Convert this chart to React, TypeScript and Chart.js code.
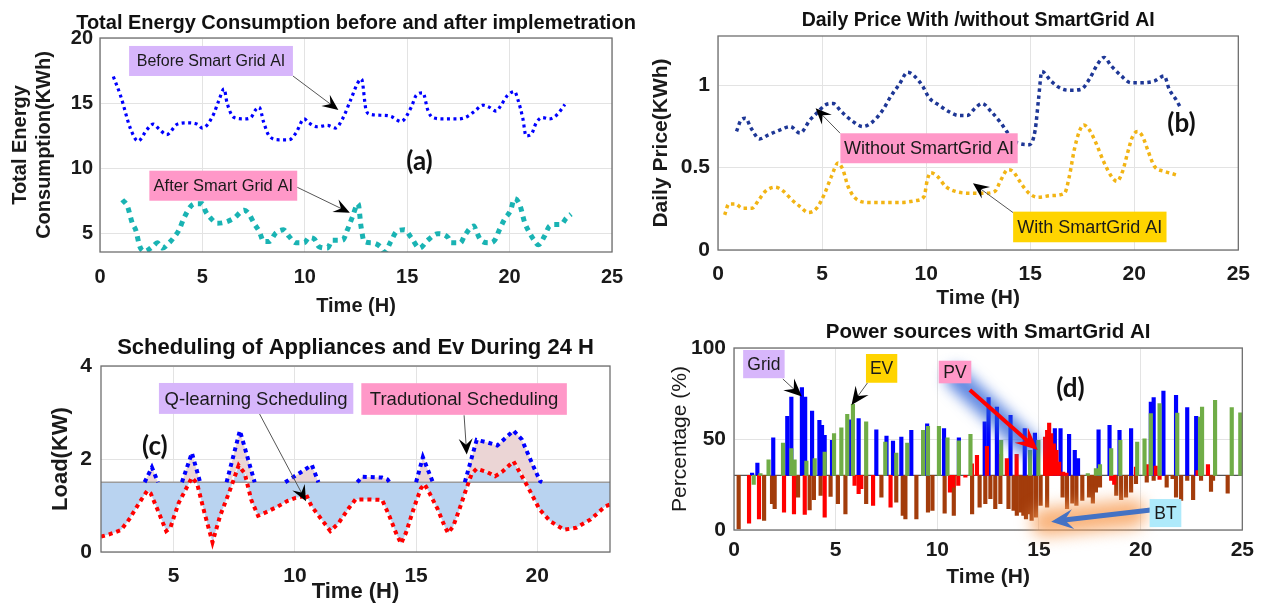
import React, { useEffect, useRef } from "react";
import { Chart, registerables } from "chart.js";

Chart.register(...registerables);

const FONT = "'Liberation Sans', Arial, Helvetica, sans-serif";
const TAG_FONT = "Lato, 'Open Sans', sans-serif";
const GRID = "#e3e3e3";
const FRAME = "#6f6f6f";
const LAVENDER = "#d7b6fb";
const PINK = "#ff98c8";
const GOLD = "#ffd400";
const CYAN = "#aeeafb";
const FILL_BLUE = "#b9d3f0";
const FILL_PINK = "#ebd5d5";

// ---------------- Panel (a) ----------------
const tickA_X = [0, 5, 10, 15, 20, 25];
const tickA_Y = [5, 10, 15, 20];
const beforeT = [0.65, 1.0, 1.5, 1.86, 2.3, 2.6, 2.9, 3.26, 3.78, 4.27, 4.75, 5.0, 5.5, 5.8, 6.06, 6.2, 6.55, 7.04, 7.36, 7.6, 7.77, 8.0, 8.26, 8.75, 9.23, 9.56, 9.97, 10.2, 10.6, 11.1, 11.5, 11.84, 12.25, 12.6, 12.77, 12.99, 13.2, 13.7, 14.2, 14.7, 15.2, 15.44, 15.77, 16.0, 16.25, 16.8, 17.5, 17.96, 18.3, 18.7, 19.0, 19.35, 19.6, 19.9, 20.24, 20.4, 20.65, 20.8, 21.05, 21.3, 21.6, 21.95, 22.3, 22.7];
const beforeV = [17.05, 15.6, 13.0, 12.1, 13.0, 13.4, 13.0, 12.6, 13.4, 13.5, 13.4, 13.1, 14.0, 15.2, 16.1, 15.05, 13.9, 13.8, 13.9, 14.5, 14.7, 13.5, 12.5, 12.2, 12.2, 12.7, 13.8, 13.5, 13.2, 13.3, 13.1, 13.8, 15.3, 16.6, 16.85, 14.5, 14.15, 14.08, 14.0, 13.6, 14.7, 15.6, 15.8, 14.5, 13.9, 13.8, 13.8, 14.0, 14.4, 14.85, 14.7, 14.4, 14.9, 15.6, 15.9, 15.3, 13.8, 12.5, 12.6, 13.5, 13.9, 13.8, 14.1, 14.9];
const afterT = [1.09, 1.34, 1.58, 1.74, 1.95, 2.18, 2.56, 2.8, 3.05, 3.37, 3.6, 3.86, 4.1, 4.43, 4.67, 5.0, 5.16, 5.4, 5.73, 6.14, 6.55, 7.04, 7.28, 7.52, 7.77, 8.0, 8.26, 8.58, 8.96, 9.23, 9.56, 9.97, 10.2, 10.46, 10.7, 11.1, 11.35, 11.84, 12.08, 12.33, 12.6, 12.75, 12.9, 13.3, 13.7, 13.9, 14.2, 14.5, 14.87, 15.2, 15.6, 16.0, 16.5, 17.0, 17.15, 17.6, 17.8, 18.26, 18.37, 18.6, 19.0, 19.27, 19.5, 19.75, 20.05, 20.24, 20.5, 20.73, 20.98, 21.2, 21.4, 21.7, 21.95, 22.2, 22.5, 22.77, 23.0];
const afterV = [7.6, 7.1, 5.8, 5.3, 4.0, 3.65, 4.0, 4.3, 3.9, 4.3, 4.7, 5.3, 6.2, 7.1, 7.3, 7.3, 6.7, 6.2, 5.8, 5.9, 6.2, 6.8, 6.5, 5.8, 5.2, 4.4, 4.4, 5.05, 5.3, 4.8, 4.3, 4.3, 4.7, 4.6, 4.0, 3.9, 4.5, 4.5, 5.3, 6.3, 7.3, 5.5, 4.4, 4.3, 4.0, 3.6, 4.4, 5.2, 5.3, 4.7, 3.9, 4.5, 5.0, 4.7, 4.3, 4.3, 4.85, 5.6, 5.2, 4.5, 4.3, 4.5, 5.3, 6.1, 6.8, 7.7, 7.2, 5.9, 5.05, 4.5, 4.15, 4.8, 5.6, 5.7, 5.7, 6.2, 6.5];

// ---------------- Panel (b) ----------------
const tickB_X = [0, 5, 10, 15, 20, 25];
const tickB_Y = [0, 0.5, 1];
const withoutT = [0.89, 1.11, 1.32, 1.59, 2.0, 2.43, 2.99, 3.47, 3.94, 4.42, 4.82, 5.13, 5.53, 5.93, 6.49, 6.96, 7.44, 7.92, 8.31, 8.71, 9.11, 9.43, 9.83, 10.14, 10.62, 11.1, 11.57, 11.97, 12.37, 12.69, 13.13, 13.6, 13.93, 14.4, 14.97, 15.24, 15.4, 15.56, 16.0, 16.49, 16.96, 17.44, 17.84, 18.24, 18.56, 18.88, 19.36, 19.84, 20.32, 20.96, 21.44, 21.68, 22.0, 22.2];
const withoutV = [0.72, 0.79, 0.8, 0.74, 0.675, 0.7, 0.73, 0.75, 0.71, 0.79, 0.84, 0.88, 0.89, 0.84, 0.78, 0.75, 0.78, 0.85, 0.935, 1.006, 1.08, 1.057, 0.996, 0.925, 0.88, 0.84, 0.817, 0.817, 0.864, 0.89, 0.84, 0.77, 0.71, 0.65, 0.64, 0.73, 0.915, 1.085, 1.026, 0.98, 0.97, 0.976, 1.037, 1.13, 1.17, 1.12, 1.06, 1.016, 1.016, 1.026, 1.057, 0.976, 0.915, 0.87];
const withT = [0.32, 0.52, 0.84, 1.16, 1.64, 1.96, 2.27, 2.75, 3.15, 3.55, 3.94, 4.34, 4.74, 5.13, 5.45, 5.77, 6.0, 6.25, 6.65, 7.28, 8.08, 8.87, 9.5, 9.9, 10.06, 10.22, 10.54, 10.94, 11.41, 12.05, 12.8, 13.3, 13.6, 13.93, 14.17, 14.5, 14.9, 15.37, 16.0, 16.65, 16.88, 17.12, 17.36, 17.57, 17.84, 18.16, 18.56, 18.96, 19.17, 19.44, 19.68, 19.92, 20.16, 20.4, 20.64, 20.96, 21.44, 21.84, 22.16];
const withV = [0.213, 0.28, 0.28, 0.254, 0.254, 0.305, 0.356, 0.382, 0.356, 0.305, 0.264, 0.228, 0.254, 0.345, 0.447, 0.528, 0.488, 0.386, 0.309, 0.289, 0.289, 0.289, 0.3, 0.325, 0.427, 0.47, 0.447, 0.386, 0.356, 0.345, 0.345, 0.356, 0.427, 0.488, 0.478, 0.417, 0.35, 0.32, 0.33, 0.345, 0.447, 0.61, 0.72, 0.76, 0.73, 0.65, 0.528, 0.437, 0.417, 0.478, 0.59, 0.69, 0.72, 0.69, 0.61, 0.51, 0.478, 0.463, 0.45];

// ---------------- Panel (c) ----------------
const tickC_X = [5, 10, 15, 20];
const tickC_Y = [0, 2, 4];
const LIMIT = 1.5;
const qT = [2.0, 2.34, 2.82, 3.16, 3.57, 3.91, 4.05, 4.39, 4.69, 4.86, 5.2, 5.55, 5.75, 5.96, 6.27, 6.6, 6.91, 7.32, 7.68, 7.93, 8.2, 8.48, 8.75, 9.3, 9.7, 10.0, 10.28, 10.45, 10.69, 11.1, 11.46, 11.8, 12.22, 12.5, 13.05, 13.6, 13.9, 14.17, 14.38, 14.58, 14.93, 15.2, 15.35, 15.56, 15.9, 16.18, 16.32, 16.53, 16.8, 17.08, 17.3, 17.5, 17.92, 18.26, 18.54, 19.02, 19.6, 20.1, 20.54, 21.1, 21.6, 22.2, 22.8, 23.0];
const qV = [0.33, 0.38, 0.47, 0.7, 1.05, 1.32, 1.26, 0.84, 0.45, 0.52, 1.05, 1.4, 1.6, 1.48, 0.84, 0.21, 0.77, 1.33, 1.86, 1.69, 1.12, 0.78, 0.84, 0.98, 1.1, 1.16, 1.19, 1.25, 0.98, 0.7, 0.45, 0.62, 0.94, 1.13, 1.13, 1.12, 0.77, 0.41, 0.18, 0.41, 0.98, 1.37, 1.46, 1.26, 0.91, 0.55, 0.41, 0.55, 0.94, 1.37, 1.69, 1.79, 1.72, 1.63, 1.72, 1.95, 1.41, 0.91, 0.66, 0.48, 0.52, 0.7, 0.98, 1.02];
const tradT = [3.8, 4.1, 4.35, 4.6, 5.34, 5.75, 6.09, 6.5, 7.18, 7.73, 8.34, 9.0, 9.6, 10.2, 10.7, 10.97, 11.5, 12.57, 12.78, 13.6, 13.82, 13.9, 14.3, 15.0, 15.28, 15.69, 16.3, 17.01, 17.3, 17.5, 17.92, 18.35, 19.02, 19.36, 19.78, 20.12, 20.2];
const tradV = [1.5, 1.82, 1.5, null, 1.5, 2.13, 1.5, null, 1.5, 2.61, 1.5, null, 1.5, 1.7, 1.87, 1.5, null, 1.5, 1.62, 1.6, 1.56, 1.5, null, 1.5, 2.04, 1.5, null, 1.5, 2.04, 2.41, 2.36, 2.29, 2.61, 2.42, 1.91, 1.52, 1.5];

// ---------------- Panel (d) ----------------
const tickD_X = [0, 5, 10, 15, 20, 25];
const tickD_Y = [0, 50, 100];
const BASE = 30;
const gridT = [0.89, 1.15, 1.93, 2.62, 2.82, 3.34, 3.5, 3.84, 4.2, 4.33, 4.46, 4.82, 5.74, 6.13, 7.0, 7.5, 7.82, 8.23, 8.72, 9.5, 10.33, 11.06, 12.33, 12.52, 12.93, 13.6, 14.3, 14.8, 15.78, 16.06, 16.48, 16.76, 16.92, 17.93, 18.47, 18.96, 19.53, 20.5, 20.64, 21.12, 21.74, 22.29, 22.73];
const gridV = [31.3, 36.8, 50.7, 62.5, 73, 78.3, 73, 65.4, 60.3, 57.5, 52, 49.3, 60.6, 61.2, 55, 51.6, 48.9, 51, 54.8, 58.4, 55.7, 50.7, 59.4, 72.8, 67.6, 63, 55.7, 53.3, 55.7, 55.7, 52.6, 43.8, 39.2, 55, 57.5, 54.8, 55.7, 70.3, 72.7, 76.3, 74, 67.2, 62.4];
const evT = [0.97, 1.3, 1.7, 2.41, 2.82, 2.98, 3.56, 3.97, 4.46, 4.92, 5.28, 5.57, 5.85, 6.5, 7.44, 7.98, 8.52, 9.3, 9.54, 10.08, 10.5, 11.06, 11.63, 13.14, 14.56, 14.97, 17.4, 17.8, 18.0, 18.55, 19.0, 19.83, 20.19, 20.5, 20.93, 21.8, 22.92, 23.02, 23.66, 24.48, 24.9];
const evV = [25, 31, 38.6, 47.8, 44.7, 38.6, 37.9, 39.2, 42.8, 53, 56.2, 63.6, 69, 59.4, 48.3, 42.3, 47.8, 54.8, 57, 57, 50.7, 49, 52.6, 49.3, 43.8, 49.3, 31, 33.7, 36, 44.7, 49.3, 48.3, 50.1, 63.9, 69.4, 64.2, 62, 67.5, 71.2, 67.2, 64.4];
const pvT = [0.74, 1.23, 2.46, 2.95, 3.48, 4.46, 5.93, 6.13, 6.26, 6.84, 7.7, 10.62, 10.78, 11.03, 11.38, 11.7, 11.95, 12.44, 13.13, 13.42, 13.9, 15.3, 15.4, 15.5, 15.6, 15.73, 15.86, 15.99, 16.19, 16.35, 18.55, 18.7, 19.77, 20.3, 20.74, 20.93, 22.8, 23.31];
const pvV = [3.8, 6.1, 9.8, 8.9, 8.5, 7, 24.5, 19.9, 22.7, 13.5, 12.6, 20.8, 23.6, 24.5, 29, 36.4, 41, 46, 41.6, 39.2, 41.6, 51, 54.8, 58.8, 53, 47.4, 43.8, 37.3, 31.8, 31.3, 27.2, 25, 34.6, 35.9, 35.1, 27.8, 32.7, 35.9];
const btT = [0.23, 1.48, 1.87, 2.0, 3.15, 3.72, 3.93, 4.26, 4.75, 5.11, 5.48, 6.5, 7.25, 7.98, 8.3, 8.43, 8.97, 9.54, 9.76, 10.36, 10.81, 11.71, 12.08, 12.36, 12.61, 12.85, 13.1, 13.5, 13.75, 13.91, 14.1, 14.23, 14.36, 14.52, 14.64, 14.85, 15.08, 15.4, 16.16, 16.38, 16.64, 16.84, 17.13, 17.46, 17.65, 17.8, 18.0, 18.8, 19.04, 19.28, 19.53, 19.77, 20.3, 20.64, 21.28, 21.57, 21.74, 21.99, 22.29, 22.58, 22.97, 23.46, 23.56, 24.28];
const btV = [0.6, 5.2, 14.4, 11.7, 18, 11.1, 16.6, 19, 18.4, 14.4, 8.9, 14.4, 18, 15.3, 8, 6.1, 6.1, 9.8, 10.7, 9.3, 8, 8.9, 12.6, 14.4, 17.2, 11.7, 14.4, 11.7, 10.7, 8, 9.8, 8, 6.1, 8.9, 5.2, 7.1, 13.5, 12.6, 18, 11.7, 14.8, 13.5, 16.2, 18, 14.8, 20.8, 23.6, 19, 16.6, 18, 20.8, 25.4, 26.3, 27.3, 23.6, 28.2, 18.1, 16.3, 27.3, 16.6, 27.3, 21.2, 27.3, 20.3];

// ---------------- helpers ----------------
const pts = (t: number[], v: any[]) => t.map((x, i) => ({ x, y: v[i] }));
const bars = (t: number[], v: number[]) => t.map((x, i) => ({ x, y: [BASE, v[i]] }));

type Box = { x1: number; x2: number; y1: number; y2: number; text: string; bg: string; size: number };
type Arrow = { x1: number; y1: number; x2: number; y2: number; color?: string; width?: number; head?: number; headW?: number; headColor?: string };
type Glow = { x1: number; y1: number; x2: number; y2: number; color: string; width: number; blur: number };
type Tag = { x: number; y: number; text: string; size: number };
type Overlay = {
  title: string; titleSize: number; titleY: number;
  boxes?: Box[]; arrows?: Arrow[]; glows?: Glow[]; tags?: Tag[]; hlines?: { y: number; color: string }[];
};

function drawArrow(ctx: CanvasRenderingContext2D, x1: number, y1: number, x2: number, y2: number, a: Arrow) {
  const color = a.color ?? "#555";
  const width = a.width ?? 1;
  const L = a.head ?? 16;
  const W = a.headW ?? 7;
  const dx = x2 - x1, dy = y2 - y1;
  const len = Math.hypot(dx, dy) || 1;
  const ux = dx / len, uy = dy / len;
  const px = -uy, py = ux;
  ctx.save();
  ctx.strokeStyle = color;
  ctx.lineWidth = width;
  ctx.beginPath();
  ctx.moveTo(x1, y1);
  ctx.lineTo(x2 - ux * L * 0.6, y2 - uy * L * 0.6);
  ctx.stroke();
  ctx.fillStyle = a.headColor ?? "#000";
  ctx.beginPath();
  ctx.moveTo(x2, y2);
  ctx.lineTo(x2 - ux * L + px * W, y2 - uy * L + py * W);
  ctx.lineTo(x2 - ux * L * 0.62, y2 - uy * L * 0.62);
  ctx.lineTo(x2 - ux * L - px * W, y2 - uy * L - py * W);
  ctx.closePath();
  ctx.fill();
  ctx.restore();
}

function overlayPlugin(o: Overlay) {
  return {
    id: "overlay",
    beforeDatasetsDraw(chart: any) {
      const { ctx, chartArea: ca, scales } = chart;
      (o.hlines || []).forEach((h) => {
        const yy = scales.y.getPixelForValue(h.y);
        ctx.save();
        ctx.strokeStyle = h.color;
        ctx.lineWidth = 1.2;
        ctx.beginPath();
        ctx.moveTo(ca.left, yy);
        ctx.lineTo(ca.right, yy);
        ctx.stroke();
        ctx.restore();
      });
    },
    afterDraw(chart: any) {
      const { ctx, chartArea: ca, scales } = chart;
      const X = (v: number) => scales.x.getPixelForValue(v);
      const Y = (v: number) => scales.y.getPixelForValue(v);
      ctx.save();
      ctx.strokeStyle = FRAME;
      ctx.lineWidth = 1.3;
      ctx.strokeRect(ca.left, ca.top, ca.right - ca.left, ca.bottom - ca.top);
      ctx.restore();

      ctx.save();
      ctx.fillStyle = "#111";
      ctx.font = `bold ${o.titleSize}px ${FONT}`;
      ctx.textAlign = "center";
      ctx.textBaseline = "middle";
      ctx.fillText(o.title, (ca.left + ca.right) / 2, o.titleY);
      ctx.restore();

      (o.glows || []).forEach((g) => {
        ctx.save();
        ctx.filter = `blur(${g.blur}px)`;
        ctx.strokeStyle = g.color;
        ctx.lineWidth = g.width;
        ctx.lineCap = "round";
        ctx.beginPath();
        ctx.moveTo(X(g.x1), Y(g.y1));
        ctx.lineTo(X(g.x2), Y(g.y2));
        ctx.stroke();
        ctx.restore();
      });

      (o.arrows || []).forEach((a) => drawArrow(ctx, X(a.x1), Y(a.y1), X(a.x2), Y(a.y2), a));

      (o.boxes || []).forEach((b) => {
        const l = X(b.x1), r = X(b.x2), t = Y(b.y1), bt = Y(b.y2);
        ctx.save();
        ctx.fillStyle = b.bg;
        ctx.fillRect(l, t, r - l, bt - t);
        ctx.fillStyle = "#1a1a1a";
        ctx.font = `${b.size}px ${FONT}`;
        ctx.textAlign = "center";
        ctx.textBaseline = "middle";
        ctx.fillText(b.text, (l + r) / 2, (t + bt) / 2 + 1);
        ctx.restore();
      });

      (o.tags || []).forEach((g) => {
        ctx.save();
        ctx.fillStyle = "#111";
        ctx.font = `bold ${g.size}px ${TAG_FONT}`;
        ctx.textAlign = "center";
        ctx.textBaseline = "middle";
        ctx.fillText(g.text, X(g.x), Y(g.y));
        ctx.restore();
      });
    },
  };
}

function makeScale(o: {
  min: number; max: number; ticks: number[]; size: number; pad: number;
  title: string | string[]; titleSize: number; titleWeight?: string; titlePad: any;
  fit: (s: any) => void;
}) {
  return {
    type: "linear",
    min: o.min,
    max: o.max,
    offset: false,
    afterBuildTicks: (s: any) => {
      s.ticks = o.ticks.map((value) => ({ value }));
    },
    afterFit: o.fit,
    grid: { color: GRID, lineWidth: 1, drawTicks: false, offset: false },
    border: { display: false },
    ticks: {
      color: "#1a1a1a",
      font: { family: FONT, size: o.size, weight: "bold" },
      padding: o.pad,
      maxRotation: 0,
      autoSkip: false,
      callback: (v: any) => String(v),
    },
    title: {
      display: true,
      text: o.title,
      color: "#1a1a1a",
      font: { family: FONT, size: o.titleSize, weight: o.titleWeight ?? "bold", lineHeight: 1.2 },
      padding: o.titlePad,
    },
  };
}

const baseOptions = (padTop: number, padRight: number) => ({
  responsive: false,
  maintainAspectRatio: false,
  animation: false,
  events: [],
  layout: { padding: { top: padTop, right: padRight, left: 0, bottom: 0 } },
  plugins: {
    legend: { display: false },
    tooltip: { enabled: false },
    title: { display: false },
    filler: { drawTime: "beforeDatasetsDraw" },
  },
});

// ---------------- chart builders ----------------
function buildA(): any {
  const overlay: Overlay = {
    title: "Total Energy Consumption before and after implemetration",
    titleSize: 20,
    titleY: 23.5,
    boxes: [
      { x1: 1.42, x2: 9.42, y1: 19.39, y2: 17.09, text: "Before Smart Grid AI", bg: LAVENDER, size: 16 },
      { x1: 2.41, x2: 9.63, y1: 9.83, y2: 7.53, text: "After Smart Grid AI", bg: PINK, size: 16.5 },
    ],
    arrows: [
      { x1: 9.42, y1: 17.09, x2: 11.64, y2: 14.48 },
      { x1: 9.63, y1: 8.56, x2: 12.2, y2: 6.61 },
    ],
    tags: [{ x: 15.6, y: 10.51, text: "(a)", size: 26 }],
  };
  return {
    type: "line",
    data: {
      datasets: [
        { data: pts(beforeT, beforeV), borderColor: "#0000ff", borderWidth: 3.2, borderDash: [3, 3.5], pointRadius: 0, cubicInterpolationMode: "monotone", fill: false },
        { data: pts(afterT, afterV), borderColor: "#19b3b3", borderWidth: 5, borderDash: [5, 5], pointRadius: 0, cubicInterpolationMode: "monotone", fill: false },
      ],
    },
    options: {
      ...baseOptions(38, 28),
      scales: {
        x: makeScale({ min: 0, max: 25, ticks: tickA_X, size: 20, pad: 13, title: "Time (H)", titleSize: 20, titlePad: { top: 0, bottom: 2 }, fit: (s) => { s.height = 68; } }),
        y: makeScale({ min: 3.6, max: 20, ticks: tickA_Y, size: 20, pad: 7, title: ["Total Energy", "Consumption(KWh)"], titleSize: 20, titlePad: { top: 8.5, bottom: 0 }, fit: (s) => { s.width = 100; } }),
      },
    },
    plugins: [overlayPlugin(overlay)],
  };
}

function buildB(): any {
  const overlay: Overlay = {
    title: "Daily Price With /without SmartGrid AI",
    titleSize: 19.5,
    titleY: 20.5,
    boxes: [
      { x1: 5.88, x2: 14.4, y1: 0.709, y2: 0.527, text: "Without SmartGrid AI", bg: PINK, size: 18 },
      { x1: 14.18, x2: 21.55, y1: 0.233, y2: 0.047, text: "With SmartGrid AI", bg: GOLD, size: 18 },
    ],
    arrows: [
      { x1: 5.87, y1: 0.709, x2: 4.69, y2: 0.861 },
      { x1: 14.18, y1: 0.227, x2: 12.25, y2: 0.405 },
    ],
    tags: [{ x: 22.27, y: 0.765, text: "(b)", size: 26 }],
  };
  return {
    type: "line",
    data: {
      datasets: [
        { data: pts(withoutT, withoutV), borderColor: "#1e3796", borderWidth: 3.5, borderDash: [3.5, 3.5], pointRadius: 0, cubicInterpolationMode: "monotone", fill: false },
        { data: pts(withT, withV), borderColor: "#f2b414", borderWidth: 3.5, borderDash: [3.5, 3.5], pointRadius: 0, cubicInterpolationMode: "monotone", fill: false },
      ],
    },
    options: {
      ...baseOptions(36, 22),
      scales: {
        x: makeScale({ min: 0, max: 25, ticks: tickB_X, size: 21, pad: 12, title: "Time (H)", titleSize: 21, titlePad: { top: 0, bottom: 9 }, fit: (s) => { s.height = 70; } }),
        y: makeScale({ min: 0, max: 1.3, ticks: tickB_Y, size: 21, pad: 8, title: "Daily Price(KWh)", titleSize: 21, titlePad: { top: 8.4, bottom: 0 }, fit: (s) => { s.width = 78; } }),
      },
    },
    plugins: [overlayPlugin(overlay)],
  };
}

function buildC(): any {
  const overlay: Overlay = {
    title: "Scheduling of Appliances and Ev During 24 H",
    titleSize: 22,
    titleY: 27.5,
    boxes: [
      { x1: 4.39, x2: 12.41, y1: 3.635, y2: 2.97, text: "Q-learning Scheduling", bg: LAVENDER, size: 18.5 },
      { x1: 12.74, x2: 21.22, y1: 3.63, y2: 2.95, text: "Tradutional Scheduling", bg: PINK, size: 18.5 },
    ],
    arrows: [
      { x1: 8.54, y1: 2.97, x2: 10.46, y2: 1.09 },
      { x1: 16.98, y1: 2.94, x2: 17.09, y2: 2.095 },
    ],
    tags: [{ x: 4.22, y: 2.27, text: "(c)", size: 26 }],
  };
  return {
    type: "line",
    data: {
      datasets: [
        { data: pts(qT, qT.map(() => LIMIT)), borderColor: "#9c9c9c", borderWidth: 1.5, pointRadius: 0, tension: 0, fill: false, order: 5 },
        { data: pts(qT, qV), borderColor: "#ff0000", borderWidth: 4, borderDash: [4, 4], pointRadius: 0, tension: 0, fill: { target: 0, above: FILL_BLUE, below: FILL_BLUE }, order: 1 },
        { data: pts(qT, qV.map((v) => Math.max(v, LIMIT))), borderColor: "rgba(0,0,0,0)", borderWidth: 0, pointRadius: 0, tension: 0, fill: false, order: 6 },
        { data: pts(tradT, tradV), borderColor: "#0000ff", borderWidth: 4, borderDash: [4, 4], pointRadius: 0, tension: 0, spanGaps: false, fill: { target: 2, above: FILL_PINK, below: "rgba(0,0,0,0)" }, order: 0 },
      ],
    },
    options: {
      ...baseOptions(46, 30),
      scales: {
        x: makeScale({ min: 2, max: 23, ticks: tickC_X, size: 21, pad: 12, title: "Time (H)", titleSize: 22, titlePad: { top: 0, bottom: 0 }, fit: (s) => { s.height = 53; } }),
        y: makeScale({ min: 0, max: 4, ticks: tickC_Y, size: 21, pad: 9, title: "Load(KW)", titleSize: 22, titlePad: { top: 47.8, bottom: 0 }, fit: (s) => { s.width = 101; } }),
      },
    },
    plugins: [overlayPlugin(overlay)],
  };
}

function buildD(): any {
  const overlay: Overlay = {
    title: "Power sources with SmartGrid AI",
    titleSize: 20.5,
    titleY: 12,
    hlines: [{ y: BASE, color: "#555" }],
    glows: [
      { x1: 10.94, y1: 83.5, x2: 14.45, y2: 46.7, color: "rgba(40,95,215,0.75)", width: 22, blur: 7 },
      { x1: 15.3, y1: 4.4, x2: 19.6, y2: 9.2, color: "rgba(247,160,90,0.8)", width: 28, blur: 8 },
    ],
    arrows: [
      { x1: 2.4, y1: 83, x2: 3.34, y2: 73.3, color: "#555", width: 1, head: 18, headW: 8 },
      { x1: 6.57, y1: 80.9, x2: 5.78, y2: 68.7, color: "#555", width: 1, head: 18, headW: 8 },
      { x1: 11.6, y1: 76.9, x2: 14.94, y2: 44, color: "#ff0000", width: 4, head: 22, headW: 10, headColor: "#ff0000" },
      { x1: 20.5, y1: 11, x2: 15.6, y2: 4.6, color: "#4472c4", width: 5, head: 22, headW: 10, headColor: "#4472c4" },
    ],
    boxes: [
      { x1: 0.45, x2: 2.49, y1: 98.9, y2: 83.4, text: "Grid", bg: LAVENDER, size: 17.5 },
      { x1: 6.49, x2: 8.03, y1: 96.7, y2: 80.9, text: "EV", bg: GOLD, size: 17.5 },
      { x1: 10.07, x2: 11.67, y1: 93, y2: 80.6, text: "PV", bg: PINK, size: 17.5 },
      { x1: 20.44, x2: 22.0, y1: 17, y2: 1.6, text: "BT", bg: CYAN, size: 17.5 },
    ],
    tags: [{ x: 16.55, y: 77.5, text: "(d)", size: 26 }],
  };
  const barDs = (data: any[], color: string, order: number) => ({
    data, backgroundColor: color, borderWidth: 0, barThickness: 3.5, grouped: false, order,
  });
  return {
    type: "bar",
    data: {
      datasets: [
        barDs(bars(evT, evV), "#70ad47", 0),
        barDs(bars(pvT, pvV), "#ff0000", 1),
        barDs(bars(gridT, gridV), "#0000ff", 2),
        barDs(bars(btT, btV), "#a33c0b", 3),
      ],
    },
    options: {
      ...baseOptions(28, 16),
      scales: {
        x: makeScale({ min: 0, max: 25, ticks: tickD_X, size: 21, pad: 8, title: "Time (H)", titleSize: 21, titlePad: { top: 0, bottom: 15.4 }, fit: (s) => { s.height = 75; } }),
        y: makeScale({ min: 0, max: 100, ticks: tickD_Y, size: 21, pad: 8, title: "Percentage (%)", titleSize: 21, titleWeight: "normal", titlePad: { top: 27.4, bottom: 0 }, fit: (s) => { s.width = 94; } }),
      },
    },
    plugins: [overlayPlugin(overlay)],
  };
}

function Panel({ left, top, width, height, build }: { left: number; top: number; width: number; height: number; build: () => any }) {
  const ref = useRef<HTMLCanvasElement>(null);
  useEffect(() => {
    if (!ref.current) return;
    const chart = new Chart(ref.current, build());
    return () => chart.destroy();
  }, []);
  return (
    <div style={{ position: "absolute", left, top, width, height }}>
      <canvas ref={ref} width={width} height={height} style={{ width, height, display: "block" }} />
    </div>
  );
}

export default function App() {
  return (
    <div style={{ position: "absolute", left: 0, top: 0, width: 1262, height: 605, background: "#ffffff", overflow: "hidden" }}>
      <Panel left={0} top={0} width={640} height={320} build={buildA} />
      <Panel left={640} top={0} width={622} height={320} build={buildB} />
      <Panel left={0} top={320} width={640} height={285} build={buildC} />
      <Panel left={640} top={320} width={622} height={285} build={buildD} />
    </div>
  );
}
